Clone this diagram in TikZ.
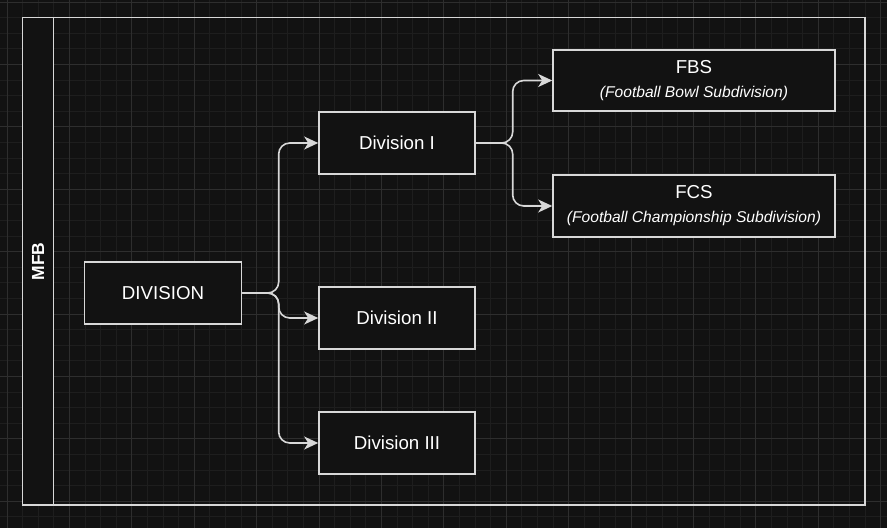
\documentclass[tikz,border=0pt]{standalone}
\usepackage{fontspec}
\setmainfont{Liberation Sans}
\usetikzlibrary{arrows.meta}
\definecolor{bgc}{HTML}{121212}
\definecolor{minorc}{HTML}{1E1E1E}
\definecolor{majorc}{HTML}{2E2E2E}
\definecolor{strokec}{HTML}{D8D8D8}
\newcommand{\subtxt}{\fontsize{15.6}{18}\selectfont\itshape}
\tikzset{
  box/.style={draw=strokec, fill=bgc, line width=1.6pt, inner sep=0pt,
    text=white, font=\fontsize{18.7}{22}\selectfont, align=center},
  edge/.style={draw=strokec, line width=1.6pt, rounded corners=11pt,
    -{Stealth[length=14pt,width=13pt,inset=4pt]}},
}
\begin{document}
\begin{tikzpicture}[x=1pt,y=-1pt]
\useasboundingbox (0,0) rectangle (887,528);
\fill[bgc] (0,0) rectangle (887,528);
% grid
\foreach \k in {0,...,56} \draw[minorc, line width=1pt] ({7+15.6*\k},0) -- ({7+15.6*\k},528);
\foreach \k in {0,...,33} \draw[minorc, line width=1pt] (0,{2+15.6*\k}) -- (887,{2+15.6*\k});
\foreach \k in {0,...,14} \draw[majorc, line width=1pt] ({7+62.4*\k},0) -- ({7+62.4*\k},528);
\foreach \k in {0,...,8} \draw[majorc, line width=1pt] (0,{2+62.4*\k}) -- (887,{2+62.4*\k});
% container
\fill[bgc] (22.5,17.5) rectangle (53.5,505);
\draw[strokec, line width=1.6pt] (22.5,17.5) rectangle (865,505);
\draw[strokec, line width=1.6pt] (53.5,17.5) -- (53.5,505);
\node[text=white, font=\fontsize{17.5}{20}\selectfont\bfseries, rotate=90] (mfb) at (38,261.5) {MFB};
% nodes
\node[box, minimum width=157pt, minimum height=62pt] (div) at (163,293) {DIVISION};
\node[box, minimum width=156pt, minimum height=62pt] (d1) at (397,143) {Division I};
\node[box, minimum width=156pt, minimum height=62pt] (d2) at (397,318) {Division II};
\node[box, minimum width=156pt, minimum height=62pt] (d3) at (397,443) {Division III};
\node[box, minimum width=282pt, minimum height=61pt] (fbs) at (694,80.5) {FBS\\[2pt]{\subtxt (Football Bowl Subdivision)}};
\node[box, minimum width=282pt, minimum height=62pt] (fcs) at (694,206) {FCS\\[2pt]{\subtxt (Football Championship Subdivision)}};
% edges
\draw[edge] (div.east) -| ([xshift=-39.5pt]d1.west) -- (d1.west);
\draw[edge] (div.east) -| ([xshift=-39.5pt]d2.west) -- (d2.west);
\draw[edge] (div.east) -| ([xshift=-39.5pt]d3.west) -- (d3.west);
\draw[edge] (d1.east) -| ([xshift=-39.5pt]fbs.west) -- (fbs.west);
\draw[edge] (d1.east) -| ([xshift=-39.5pt]fcs.west) -- (fcs.west);
\end{tikzpicture}
\end{document}
